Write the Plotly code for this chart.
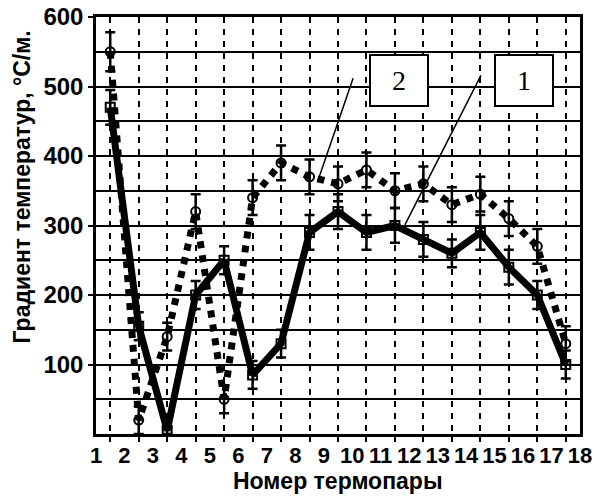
import plotly.graph_objects as go

# Data
x_pos = [1.5, 2.5, 3.5, 4.5, 5.5, 6.5, 7.5, 8.5, 9.5, 10.5, 11.5, 12.5, 13.5, 14.5, 15.5, 16.5, 17.5]
series1 = [470, 155, 5, 200, 250, 85, 130, 290, 320, 290, 300, 280, 260, 290, 240, 200, 100]
err1 = [25, 20, 5, 20, 20, 20, 20, 25, 25, 25, 25, 25, 20, 25, 25, 20, 20]
series2 = [550, 20, 140, 320, 50, 340, 390, 370, 360, 380, 350, 360, 330, 345, 310, 270, 130]
err2 = [28, 20, 20, 25, 20, 25, 25, 25, 25, 25, 25, 25, 25, 25, 25, 25, 25]
x_tick_vals = list(range(1, 19))
x_tick_text = [str(v) for v in x_tick_vals]
y_tick_vals = [100, 200, 300, 400, 500, 600]
y_tick_text = [str(v) for v in y_tick_vals]

FONT = "Liberation Sans"

fig = go.Figure()

fig.add_trace(go.Scatter(
    x=x_pos, y=series2, mode="lines+markers",
    line=dict(color="black", width=7, dash="7px,7px"),
    marker=dict(symbol="circle-open", size=9, color="black", line=dict(width=2)),
    error_y=dict(type="data", array=err2, color="black", thickness=2.5, width=5),
    showlegend=False,
))
fig.add_trace(go.Scatter(
    x=x_pos, y=series1, mode="lines+markers",
    line=dict(color="black", width=7),
    marker=dict(symbol="square-open", size=9, color="black", line=dict(width=2)),
    error_y=dict(type="data", array=err1, color="black", thickness=2.5, width=5),
    showlegend=False,
))

# Callout lines
fig.add_shape(type="line", x0=10.03, y0=512, x1=8.80, y1=365, line=dict(color="black", width=1.5))
fig.add_shape(type="line", x0=14.52, y0=516, x1=11.85, y1=301, line=dict(color="black", width=1.5))

for label, xc in [("2", 11.64), ("1", 16.03)]:
    fig.add_annotation(
        x=xc, y=509, text=label, showarrow=False,
        font=dict(family="Liberation Serif", size=28, color="black"),
        bgcolor="white", bordercolor="black", borderwidth=2,
        width=54, height=47, xanchor="center", yanchor="middle",
    )

# Axis titles as annotations
fig.add_annotation(
    xref="paper", yref="paper", x=0.5, y=-0.113, xanchor="center", yanchor="middle",
    text="<b>Номер термопары</b>", showarrow=False,
    font=dict(family=FONT, size=23, color="black"),
)
fig.add_annotation(
    xref="paper", yref="paper", x=-0.152, y=0.592, xanchor="center", yanchor="middle",
    text="<b>Градиент температур, °С/м.</b>", showarrow=False, textangle=-90,
    font=dict(family=FONT, size=23, color="black"),
)

fig.update_layout(
    width=595, height=499,
    margin=dict(l=96, r=15, t=17, b=65, autoexpand=False),
    paper_bgcolor="white", plot_bgcolor="white",
    font=dict(family=FONT, color="black"),
)

fig.update_xaxes(
    automargin=False,
    range=[1, 18], tickvals=x_tick_vals, ticktext=["<b>%s</b>" % t for t in x_tick_text],
    tickfont=dict(size=22, family=FONT), ticklabeloverflow="allow",
    showgrid=False, ticks="",
    minor=dict(tick0=1.5, dtick=1, showgrid=True, gridcolor="black", gridwidth=2,
               griddash="6px,6px", ticks="outside", ticklen=5, tickcolor="black", tickwidth=2),
    showline=True, linecolor="black", linewidth=2.5, mirror=True,
    zeroline=False,
)
fig.update_yaxes(
    automargin=False,
    range=[0, 600], tickvals=y_tick_vals, ticktext=["<b>%s</b>" % t for t in y_tick_text],
    tickfont=dict(size=24, family=FONT),
    showgrid=True, gridcolor="black", gridwidth=1.5,
    minor=dict(dtick=50, tick0=0, showgrid=True, gridcolor="black", gridwidth=1.5),
    ticks="outside", ticklen=5, tickwidth=2, tickcolor="black",
    showline=True, linecolor="black", linewidth=2.5, mirror=True,
    zeroline=False,
)

fig.write_html("out.html", config={"displayModeBar": False},
               post_script="document.body.style.margin='0';")
